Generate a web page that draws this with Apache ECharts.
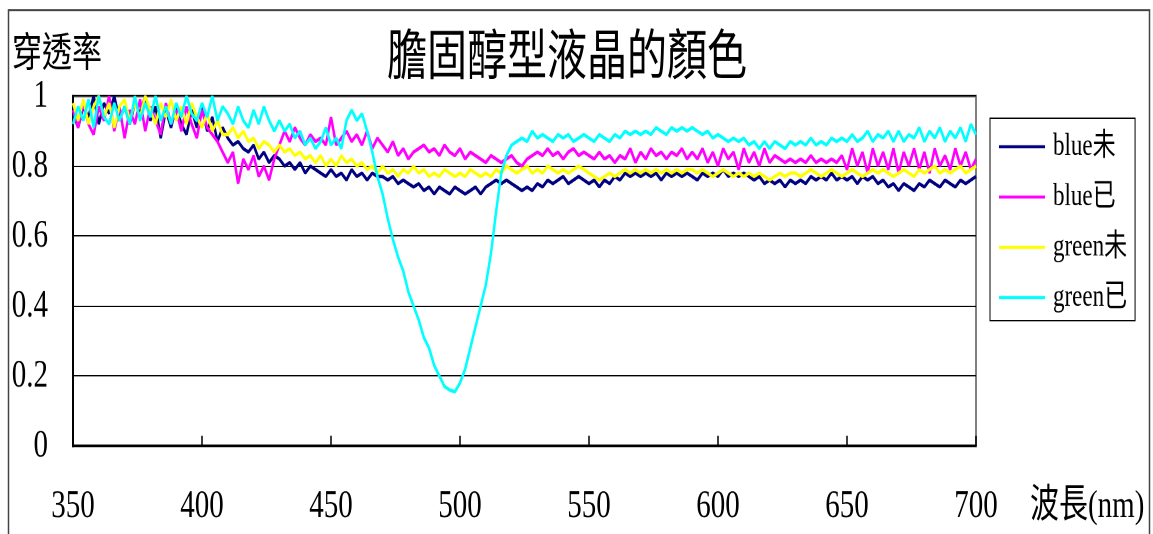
<!DOCTYPE html>
<html>
<head>
<meta charset="utf-8">
<script src="https://cdn.jsdelivr.net/npm/echarts@6/dist/echarts.min.js"></script>
<style>
  html, body { margin: 0; padding: 0; background: #fff; }
  #page { width: 1153px; height: 534px; overflow: hidden; position: relative; }
  /* the chart is laid out on a shorter canvas and stretched vertically,
     which gives the tall, narrow lettering of the original figure */
  #wrap { position: absolute; left: 0; top: 0; width: 1153px; height: 393px; transform: scaleY(1.3588); transform-origin: 0 0; }
  #chart { width: 1153px; height: 393px; }
</style>
</head>
<body>
<div id="page"><div id="wrap"><div id="chart"></div></div></div>
<script>
// Transmittance spectra, sampled every 2 nm from 350 nm to 700 nm
const WAVELENGTH_START = 350;
const WAVELENGTH_STEP = 2;

const seriesNames = ['blue未', 'blue已', 'green未', 'green已'];
const seriesColors = ['#000080', '#FF00FF', '#FFFF00', '#00FFFF'];
const xTicks = [350, 400, 450, 500, 550, 600, 650, 700];

const blueBefore = [
  0.95,0.91,0.97,0.94,1.00,0.92,0.98,0.95,1.00,0.93,
  0.97,0.92,0.98,0.95,1.00,0.93,0.97,0.88,0.96,0.91,
  0.97,0.92,0.89,0.96,0.91,0.97,0.90,0.94,0.87,0.91,
  0.88,0.86,0.87,0.85,0.84,0.86,0.82,0.84,0.81,0.83,
  0.82,0.80,0.81,0.79,0.81,0.78,0.80,0.79,0.78,0.77,
  0.79,0.77,0.78,0.76,0.79,0.77,0.78,0.76,0.78,0.77,
  0.77,0.76,0.77,0.75,0.76,0.75,0.74,0.75,0.73,0.74,
  0.72,0.74,0.73,0.72,0.74,0.73,0.72,0.73,0.74,0.72,
  0.74,0.75,0.76,0.75,0.76,0.75,0.74,0.73,0.74,0.73,
  0.75,0.74,0.76,0.75,0.76,0.77,0.75,0.76,0.77,0.76,
  0.75,0.76,0.74,0.76,0.75,0.77,0.76,0.78,0.77,0.78,
  0.77,0.78,0.77,0.78,0.76,0.78,0.77,0.78,0.77,0.78,
  0.77,0.76,0.78,0.77,0.78,0.77,0.79,0.77,0.78,0.77,
  0.78,0.77,0.76,0.77,0.75,0.76,0.75,0.76,0.74,0.76,
  0.75,0.76,0.75,0.77,0.76,0.77,0.76,0.78,0.76,0.77,
  0.76,0.77,0.75,0.77,0.76,0.77,0.75,0.76,0.74,0.75,
  0.73,0.75,0.74,0.73,0.75,0.74,0.76,0.75,0.74,0.76,
  0.75,0.74,0.76,0.75,0.76,0.77
];

const blueAfter = [
  0.96,0.91,0.98,0.92,0.89,0.97,0.93,1.00,0.90,0.97,
  0.88,0.96,0.92,0.99,0.90,0.97,0.93,0.89,0.98,0.92,
  0.96,0.90,0.97,0.92,0.88,0.96,0.91,0.89,0.87,0.84,
  0.81,0.84,0.75,0.82,0.79,0.83,0.77,0.80,0.76,0.82,
  0.86,0.90,0.87,0.91,0.88,0.86,0.89,0.87,0.88,0.86,
  0.94,0.86,0.88,0.90,0.87,0.89,0.86,0.90,0.85,0.88,
  0.86,0.84,0.87,0.83,0.85,0.82,0.84,0.85,0.86,0.84,
  0.85,0.83,0.86,0.84,0.83,0.85,0.82,0.84,0.83,0.82,
  0.81,0.83,0.82,0.81,0.82,0.83,0.81,0.80,0.82,0.83,
  0.84,0.83,0.85,0.83,0.84,0.82,0.84,0.85,0.83,0.84,
  0.83,0.82,0.84,0.82,0.83,0.81,0.83,0.82,0.85,0.81,
  0.84,0.82,0.85,0.83,0.84,0.82,0.84,0.83,0.85,0.82,
  0.84,0.82,0.85,0.81,0.84,0.80,0.85,0.82,0.84,0.79,
  0.85,0.81,0.84,0.80,0.85,0.81,0.83,0.82,0.81,0.82,
  0.81,0.82,0.81,0.83,0.81,0.82,0.81,0.82,0.81,0.83,
  0.79,0.85,0.80,0.84,0.78,0.85,0.80,0.84,0.79,0.85,
  0.78,0.84,0.80,0.85,0.79,0.84,0.78,0.85,0.80,0.83,
  0.79,0.85,0.80,0.84,0.79,0.82
];

const greenBefore = [
  0.98,0.93,0.99,0.92,0.97,1.00,0.94,0.98,0.91,0.97,
  0.99,0.93,0.98,0.94,1.00,0.96,0.92,0.98,0.94,0.99,
  0.93,0.97,0.92,0.98,0.94,0.91,0.95,0.90,0.93,0.89,
  0.89,0.91,0.88,0.90,0.87,0.88,0.85,0.87,0.86,0.84,
  0.86,0.84,0.85,0.83,0.84,0.82,0.83,0.81,0.83,0.80,
  0.82,0.80,0.83,0.81,0.82,0.80,0.81,0.79,0.80,0.78,
  0.80,0.78,0.79,0.77,0.79,0.78,0.80,0.78,0.79,0.77,
  0.78,0.77,0.79,0.78,0.77,0.78,0.77,0.79,0.78,0.77,
  0.78,0.77,0.79,0.78,0.80,0.79,0.78,0.79,0.80,0.78,
  0.79,0.78,0.80,0.79,0.78,0.79,0.78,0.79,0.80,0.79,
  0.78,0.77,0.76,0.77,0.78,0.77,0.78,0.79,0.78,0.79,
  0.78,0.79,0.78,0.79,0.78,0.79,0.78,0.79,0.78,0.79,
  0.79,0.78,0.79,0.78,0.77,0.78,0.79,0.78,0.77,0.78,
  0.77,0.78,0.77,0.78,0.77,0.76,0.77,0.78,0.77,0.78,
  0.78,0.77,0.78,0.79,0.78,0.77,0.78,0.79,0.78,0.77,
  0.78,0.79,0.78,0.77,0.78,0.79,0.78,0.79,0.78,0.77,
  0.78,0.79,0.78,0.77,0.79,0.78,0.79,0.80,0.78,0.79,
  0.78,0.79,0.80,0.78,0.79,0.80
];

const greenAfter = [
  0.92,0.97,0.93,0.99,0.91,1.00,0.94,0.92,0.98,0.93,
  0.97,0.92,1.00,0.93,0.98,0.94,1.00,0.93,0.97,0.92,
  0.98,0.94,1.00,0.95,0.93,0.98,0.94,1.00,0.93,0.97,
  0.95,0.92,0.97,0.93,0.91,0.96,0.92,0.97,0.93,0.90,
  0.93,0.90,0.92,0.88,0.90,0.86,0.88,0.85,0.87,0.91,
  0.86,0.88,0.85,0.93,0.96,0.93,0.95,0.90,0.84,0.77,
  0.72,0.65,0.59,0.54,0.50,0.44,0.40,0.36,0.31,0.28,
  0.23,0.20,0.17,0.16,0.155,0.18,0.22,0.28,0.34,0.40,
  0.46,0.55,0.67,0.78,0.83,0.86,0.87,0.88,0.87,0.90,
  0.88,0.89,0.88,0.87,0.89,0.88,0.89,0.87,0.88,0.89,
  0.88,0.87,0.89,0.88,0.87,0.89,0.88,0.90,0.89,0.90,
  0.89,0.90,0.89,0.91,0.90,0.89,0.91,0.90,0.91,0.90,
  0.91,0.90,0.89,0.90,0.88,0.89,0.88,0.87,0.88,0.87,
  0.88,0.86,0.87,0.85,0.87,0.85,0.87,0.86,0.85,0.87,
  0.86,0.87,0.86,0.88,0.86,0.87,0.86,0.88,0.87,0.88,
  0.87,0.89,0.87,0.88,0.90,0.87,0.89,0.88,0.90,0.87,
  0.90,0.87,0.89,0.88,0.91,0.87,0.90,0.88,0.91,0.87,
  0.90,0.88,0.91,0.87,0.92,0.89
];

const seriesValues = [blueBefore, blueAfter, greenBefore, greenAfter];

function toPoints(values) {
  return values.map((v, i) => [WAVELENGTH_START + i * WAVELENGTH_STEP, v]);
}

const FONT = '"Liberation Serif", "Times New Roman", "Noto Sans CJK TC", serif';

const chart = echarts.init(document.getElementById('chart'), null, {
  renderer: 'canvas',
  devicePixelRatio: 2
});

chart.setOption({
  animation: false,
  backgroundColor: '#fff',
  textStyle: { fontFamily: FONT, color: '#000' },
  title: {
    text: '膽固醇型液晶的顏色',
    left: 387,
    top: 24,
    padding: 0,
    textStyle: { fontFamily: FONT, fontSize: 40, fontWeight: 'normal', color: '#000' }
  },
  graphic: [{
    type: 'rect',
    silent: true,
    shape: { x: 8.5, y: 7.4, width: 1141, height: 420 },
    style: { fill: 'none', stroke: '#444', lineWidth: 1.5 },
    z: 0
  }],
  legend: {
    orient: 'vertical',
    left: 990,
    top: 87,
    padding: [9, 8, 5, 9],
    icon: 'rect',
    itemWidth: 46,
    itemHeight: 2.2,
    itemGap: 13,
    borderColor: '#000',
    borderWidth: 1,
    backgroundColor: '#fff',
    data: seriesNames,
    textStyle: { fontFamily: FONT, fontSize: 23, lineHeight: 24, color: '#000', padding: [0, 0, 0, 3] }
  },
  grid: {
    left: 73,
    right: 177,
    top: 70.7,
    bottom: 64.8,
    show: true,
    borderColor: '#808080',
    borderWidth: 2,
    backgroundColor: '#fff'
  },
  xAxis: {
    type: 'value',
    min: xTicks[0],
    max: xTicks[xTicks.length - 1],
    interval: 50,
    name: '波長(nm)',
    nameLocation: 'end',
    nameGap: 54,
    nameTextStyle: { fontFamily: FONT, fontSize: 29, color: '#000', verticalAlign: 'top', padding: [30, 0, 0, 0] },
    axisLine: { show: true, onZero: false, lineStyle: { color: '#000', width: 1.5 } },
    axisTick: { show: true, inside: true, length: 7.4, lineStyle: { color: '#000', width: 1.5 } },
    axisLabel: { fontFamily: FONT, fontSize: 29, color: '#000', margin: 30 },
    splitLine: { show: false }
  },
  yAxis: {
    type: 'value',
    min: 0,
    max: 1,
    interval: 0.2,
    name: '穿透率',
    nameLocation: 'end',
    nameGap: 13,
    nameTextStyle: { fontFamily: FONT, fontSize: 30, color: '#000', padding: [0, 32, 0, 0] },
    axisLine: { show: true, lineStyle: { color: '#000', width: 2 } },
    axisTick: { show: false },
    axisLabel: { fontFamily: FONT, fontSize: 29, color: '#000', margin: 25 },
    splitLine: { show: true, lineStyle: { color: '#000', width: 1 } }
  },
  series: seriesNames.map((name, k) => ({
    name: name,
    type: 'line',
    data: toPoints(seriesValues[k]),
    symbol: 'none',
    color: seriesColors[k],
    lineStyle: { color: seriesColors[k], width: 2.5 },
    z: 2 + k
  }))
});
</script>
</body>
</html>
